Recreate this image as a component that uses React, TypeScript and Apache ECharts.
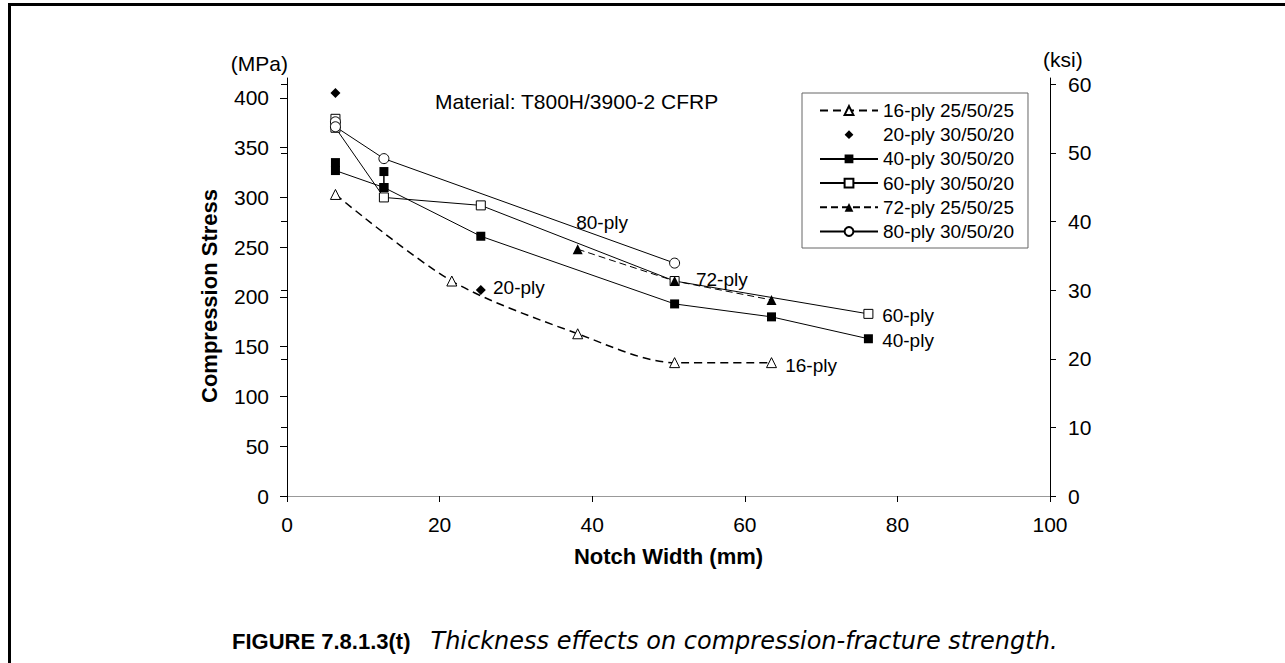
import React, { useEffect, useRef } from 'react';
import * as echarts from 'echarts';

const FONT = '"Liberation Sans", Arial, Helvetica, sans-serif';
const MPA_PER_KSI = 6.89476;

// Axes
const X_MIN = 0;
const X_MAX = 100;
const X_STEP = 20;
const Y_MAX_MPA = 420;
const mpaTicks = [0, 50, 100, 150, 200, 250, 300, 350, 400];
const ksiTicks = [0, 10, 20, 30, 40, 50, 60];

// Data: [notch width (mm), compression stress (MPa)]
const ply16 = [[6.35, 303], [21.6, 216], [38.1, 163], [50.8, 134], [63.5, 134]];
const ply20 = [[6.35, 405], [25.4, 207]];
const ply40 = [[6.35, 335], [6.35, 327], [12.7, 310], [12.7, 326], [12.7, 310], [25.4, 261], [50.8, 193], [63.5, 180], [76.2, 158]];
const ply60 = [[6.35, 379], [6.35, 370], [12.7, 300], [25.4, 292], [50.8, 216], [76.2, 183]];
const ply72 = [[38.1, 248], [50.8, 216], [63.5, 197]];
const ply80 = [[6.35, 376], [6.35, 371], [12.7, 339], [50.8, 234]];

const seriesNames = [
  '16-ply 25/50/25',
  '20-ply 30/50/20',
  '40-ply 30/50/20',
  '60-ply 30/50/20',
  '72-ply 25/50/25',
  '80-ply 30/50/20',
];

// In-plot labels: [x (mm), y (MPa), text]
const annotations: [number, number, string][] = [
  [37.9, 275, '80-ply'],
  [53.6, 218, '72-ply'],
  [78.0, 181, '60-ply'],
  [78.0, 156, '40-ply'],
  [65.3, 131, '16-ply'],
  [27.0, 209, '20-ply'],
];

const TITLE = 'Material: T800H/3900-2 CFRP';
const X_NAME = 'Notch Width (mm)';
const Y_NAME = 'Compression Stress';
const CAPTION_B = 'FIGURE 7.8.1.3(t)';
const CAPTION_I = 'Thickness effects on compression-fracture strength.';

export default function App() {
  const ref = useRef<HTMLDivElement>(null);
  useEffect(() => {
    if (!ref.current) return;
    const chart = echarts.init(ref.current, undefined, { renderer: 'svg' });
    const black = '#000';
    const lineBase = (data: number[][], name: string, extra: any) => ({
      type: 'line',
      name,
      data,
      xAxisIndex: 0,
      yAxisIndex: 0,
      symbolKeepAspect: true,
      silent: true,
      emphasis: { disabled: true },
      ...extra,
    });
    const option: any = {
      animation: false,
      backgroundColor: '#fff',
      textStyle: { fontFamily: FONT, color: black },
      title: {
        text: TITLE,
        left: 435,
        top: 91,
        padding: 0,
        textStyle: { fontSize: 21, fontWeight: 'normal', color: black, fontFamily: FONT },
      },
      grid: { left: 287, right: 235, top: 78, bottom: 167, containLabel: false },
      legend: {
        data: seriesNames,
        orient: 'vertical',
        left: 802,
        top: 93,
        padding: [8, 14, 7, 17],
        itemWidth: 58,
        itemHeight: 11,
        itemGap: 5.2,
        borderColor: '#666',
        borderWidth: 1,
        backgroundColor: '#fff',
        textStyle: { fontSize: 19, color: black, fontFamily: FONT },
        selectedMode: false,
      },
      xAxis: [
        {
          type: 'value',
          min: X_MIN,
          max: X_MAX,
          interval: X_STEP,
          name: X_NAME,
          nameLocation: 'middle',
          nameGap: 49,
          nameTextStyle: { fontSize: 22, fontWeight: 'bold', color: black, fontFamily: FONT },
          axisLine: { show: true, lineStyle: { color: black, width: 1 } },
          axisTick: { show: true, inside: false, length: 6, lineStyle: { color: black } },
          axisLabel: { fontSize: 21, color: black, margin: 18, fontFamily: FONT },
          splitLine: { show: false },
        },
        {
          type: 'value',
          position: 'top',
          min: X_MIN,
          max: X_MAX,
          interval: X_STEP,
          axisLine: { show: true, lineStyle: { color: '#999', width: 1 } },
          axisTick: { show: false },
          axisLabel: { show: false },
          splitLine: { show: false },
        },
      ],
      yAxis: [
        {
          type: 'value',
          position: 'left',
          min: 0,
          max: Y_MAX_MPA,
          name: Y_NAME,
          nameLocation: 'middle',
          nameGap: 67,
          nameRotate: 90,
          nameTextStyle: { fontSize: 22, fontWeight: 'bold', color: black, fontFamily: FONT, padding: [0, 18, 0, 0] },
          axisLine: { show: true, lineStyle: { color: black, width: 1 } },
          axisTick: { show: true, inside: false, length: 7, customValues: mpaTicks, lineStyle: { color: black } },
          axisLabel: { fontSize: 21, color: black, margin: 18, customValues: mpaTicks, fontFamily: FONT },
          splitLine: { show: false },
        },
        {
          type: 'value',
          position: 'right',
          min: 0,
          max: Y_MAX_MPA / MPA_PER_KSI,
          axisLine: { show: true, onZero: false, lineStyle: { color: black, width: 1 } },
          axisTick: { show: true, inside: false, length: 6, customValues: ksiTicks, lineStyle: { color: black } },
          axisLabel: { fontSize: 21, color: black, margin: 18, customValues: ksiTicks, fontFamily: FONT },
          splitLine: { show: false },
        },
        {
          type: 'value',
          position: 'right',
          min: 0,
          max: Y_MAX_MPA / MPA_PER_KSI,
          axisLine: { show: false },
          axisTick: { show: true, inside: true, length: 6, customValues: ksiTicks, lineStyle: { color: black } },
          axisLabel: { show: false },
          splitLine: { show: false },
        },
      ],
      series: [
        lineBase(ply16, seriesNames[0], {
          symbol: 'triangle',
          symbolSize: 10,
          smooth: 0.3,
          itemStyle: { color: '#fff', borderColor: black, borderWidth: 1 },
          lineStyle: { color: black, width: 1.5, type: [8, 5] },
        }),
        lineBase(ply20, seriesNames[1], {
          symbol: 'diamond',
          symbolSize: 10,
          itemStyle: { color: black, borderColor: black, borderWidth: 0 },
          lineStyle: { color: 'rgba(0,0,0,0)', width: 0, opacity: 0 },
        }),
        lineBase(ply40, seriesNames[2], {
          symbol: 'rect',
          symbolSize: 9,
          itemStyle: { color: black, borderColor: black, borderWidth: 0 },
          lineStyle: { color: black, width: 1, type: 'solid' },
        }),
        lineBase(ply60, seriesNames[3], {
          symbol: 'rect',
          symbolSize: 9,
          itemStyle: { color: '#fff', borderColor: black, borderWidth: 1 },
          lineStyle: { color: black, width: 1, type: 'solid' },
        }),
        lineBase(ply72, seriesNames[4], {
          symbol: 'triangle',
          symbolSize: 10,
          itemStyle: { color: black, borderColor: black, borderWidth: 0 },
          lineStyle: { color: black, width: 1, type: [7, 4] },
        }),
        lineBase(ply80, seriesNames[5], {
          symbol: 'circle',
          symbolSize: 10,
          itemStyle: { color: '#fff', borderColor: black, borderWidth: 1 },
          lineStyle: { color: black, width: 1, type: 'solid' },
        }),
        {
          type: 'scatter',
          name: 'labels',
          silent: true,
          symbolSize: 0,
          itemStyle: { opacity: 1, color: black },
          data: annotations.map(([x, y, t]) => ({ name: t, value: [x, y] })),
          label: {
            show: true,
            position: 'right',
            distance: 0,
            formatter: (p: any) => p.name,
            fontSize: 19,
            color: black,
            opacity: 1,
            fontFamily: FONT,
          },
        },
      ],
      graphic: [
        {
          type: 'rect',
          shape: { x: 9.5, y: 4.5, width: 1400, height: 800 },
          style: { fill: 'none', stroke: black, lineWidth: 3 },
          silent: true,
        },
        {
          type: 'text',
          x: 288,
          y: 63,
          style: { text: '(MPa)', align: 'right', verticalAlign: 'middle', textAlign: 'right', textVerticalAlign: 'middle', fontSize: 21, fontFamily: FONT, fill: black },
        },
        {
          type: 'text',
          x: 1043,
          y: 59,
          style: { text: '(ksi)', align: 'left', verticalAlign: 'middle', textAlign: 'left', textVerticalAlign: 'middle', fontSize: 21, fontFamily: FONT, fill: black },
        },
        {
          type: 'text',
          x: 232,
          y: 641,
          style: {
            text: '{b|' + CAPTION_B + '}{i|' + CAPTION_I + '}',
            verticalAlign: 'middle',
            textVerticalAlign: 'middle',
            fill: black,
            rich: {
              b: { fontSize: 22, fontWeight: 'bold', fontFamily: FONT, fill: black, color: black },
              i: { fontSize: 24, fontStyle: 'italic', fontFamily: '"DejaVu Sans", sans-serif', fill: black, color: black, padding: [0, 0, 0, 20] },
            },
          },
        },
      ],
    };
    chart.setOption(option);
    return () => chart.dispose();
  }, []);
  return (
    <div
      ref={ref}
      style={{ position: 'fixed', left: 0, top: 0, width: 1285, height: 663, background: '#fff' }}
    />
  );
}
